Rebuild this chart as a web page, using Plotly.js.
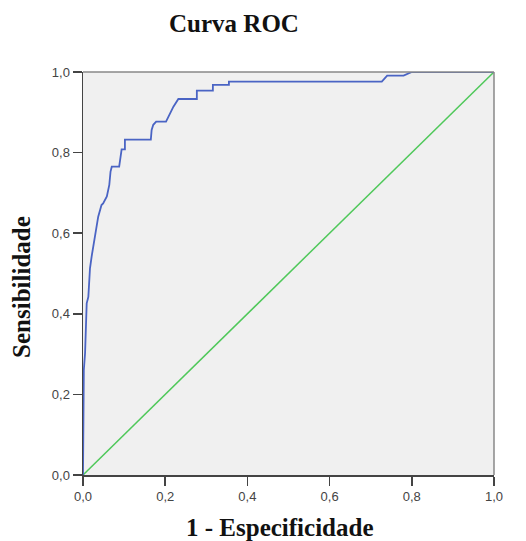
<!DOCTYPE html>
<html>
<head>
<meta charset="utf-8">
<script src="https://cdn.plot.ly/plotly-3.0.1.min.js"></script>
<style>html,body{margin:0;padding:0;background:#fff;}#chart{width:526px;height:541px;}</style>
</head>
<body>
<div id="chart"></div>
<script>
// ROC curve (1 - specificity, sensitivity)
var fpr = [0, 0.001, 0.002, 0.005, 0.007, 0.007, 0.009, 0.013, 0.017, 0.021, 0.025, 0.031, 0.037, 0.045, 0.049, 0.058, 0.062, 0.064, 0.067, 0.070, 0.088, 0.090, 0.094, 0.102, 0.102, 0.165, 0.167, 0.171, 0.178, 0.202, 0.208, 0.213, 0.220, 0.232, 0.277, 0.277, 0.316, 0.316, 0.355, 0.355, 0.727, 0.740, 0.780, 0.800, 1.0];
var tpr = [0, 0.178, 0.260, 0.302, 0.360, 0.384, 0.426, 0.442, 0.513, 0.542, 0.566, 0.608, 0.641, 0.670, 0.674, 0.691, 0.707, 0.720, 0.753, 0.765, 0.765, 0.782, 0.808, 0.808, 0.832, 0.832, 0.856, 0.869, 0.877, 0.877, 0.889, 0.898, 0.914, 0.933, 0.933, 0.954, 0.954, 0.968, 0.968, 0.976, 0.976, 0.991, 0.991, 1.0, 1.0];
// Reference line
var refX = [0, 1];
var refY = [0, 1];
var tickVals = [0, 0.2, 0.4, 0.6, 0.8, 1.0];
var titleText = 'Curva ROC';
var xTitleText = '1 - Especificidade';
var yTitleText = 'Sensibilidade';

var traces = [
  {x: refX, y: refY, mode: 'lines', line: {color: '#4fc85a', width: 1.5}, hoverinfo: 'skip', showlegend: false},
  {x: fpr, y: tpr, mode: 'lines', line: {color: '#4a64c4', width: 1.8}, showlegend: false}
];

var serif = 'Liberation Serif, Times New Roman, serif';
var titleFont = {family: serif, size: 25, color: '#111', weight: 'bold'};
var axisCommon = {
  range: [0, 1],
  tickvals: tickVals,
  tickformat: '.1f',
  ticks: 'outside',
  ticklen: 9,
  tickwidth: 1.5,
  tickcolor: '#444',
  showline: true,
  linecolor: '#444',
  linewidth: 1.5,
  showgrid: false,
  zeroline: false,
  tickfont: {family: 'Liberation Sans, Arial, sans-serif', size: 13, color: '#444'}
};

var layout = {
  width: 526, height: 541,
  margin: {l: 83, r: 32, t: 72, b: 66},
  paper_bgcolor: '#ffffff',
  plot_bgcolor: '#f0f0f0',
  separators: ',.',
  title: {text: titleText, x: 234/526, xref: 'container', xanchor: 'center', y: 1 - 23/541, yref: 'container', yanchor: 'middle',
          font: titleFont},
  xaxis: Object.assign({}, axisCommon),
  yaxis: Object.assign({}, axisCommon),
  annotations: [
    {text: xTitleText, xref: 'paper', yref: 'paper', x: 0.479, y: -0.1315, xanchor: 'center', yanchor: 'middle', showarrow: false, font: titleFont},
    {text: yTitleText, xref: 'paper', yref: 'paper', x: -0.151, y: 0.4665, xanchor: 'center', yanchor: 'middle', textangle: -90, showarrow: false, font: titleFont}
  ],
  shapes: [
    {type: 'line', xref: 'paper', yref: 'paper', x0: 0, x1: 1, y0: 1, y1: 1, line: {color: '#888', width: 1.5}},
    {type: 'line', xref: 'paper', yref: 'paper', x0: 1, x1: 1, y0: 0, y1: 1, line: {color: '#888', width: 1.5}}
  ]
};

Plotly.newPlot('chart', traces, layout, {displayModeBar: false, staticPlot: true});
</script>
</body>
</html>
